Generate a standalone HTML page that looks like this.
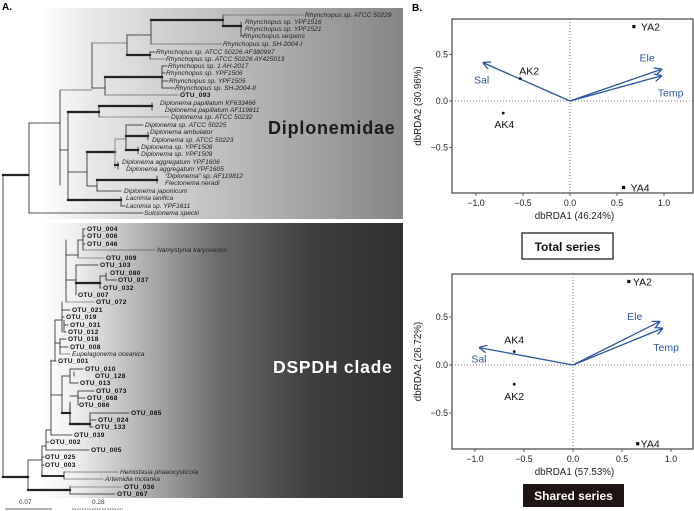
<!DOCTYPE html>
<html><head><meta charset="utf-8">
<style>
html,body{margin:0;padding:0;background:#fff;}
svg{display:block;font-family:"Liberation Sans",Arial,sans-serif;}
.lf{font-size:6.6px;font-style:italic;fill:#222;}
.ob{font-size:6.6px;font-weight:bold;fill:#111;letter-spacing:0.3px;}
.tk{font-size:8.8px;fill:#222;}
.at{font-size:9.8px;fill:#222;}
.pl{font-size:10.5px;fill:#111;}
.vl{font-size:10.5px;fill:#2b55a0;}
</style></head>
<body>
<svg id="fig" width="694" height="511" viewBox="0 0 694 511">
<defs>
<linearGradient id="g1" x1="0" x2="1" y1="0" y2="0">
<stop offset="0" stop-color="#ffffff"/><stop offset="0.15" stop-color="#e8e8e8"/><stop offset="1" stop-color="#858585"/>
</linearGradient>
<linearGradient id="g2" x1="0" x2="1" y1="0" y2="0">
<stop offset="0" stop-color="#ffffff"/><stop offset="0.1" stop-color="#f0f0f0"/><stop offset="0.5" stop-color="#6a6a6a"/><stop offset="0.75" stop-color="#3e3e3e"/><stop offset="1" stop-color="#303030"/>
</linearGradient>
<marker id="ah" markerWidth="8" markerHeight="8" refX="7" refY="4" orient="auto" markerUnits="userSpaceOnUse">
<path d="M0,0 L8,4 L0,8" fill="none" stroke="#2b55a0" stroke-width="1.3"/>
</marker>
</defs>

<!-- Panel A -->
<text x="2" y="10" font-size="10" font-weight="bold">A.</text>
<rect x="38" y="8" width="365" height="211" fill="url(#g1)"/>
<rect x="38" y="223" width="365" height="275" fill="url(#g2)"/>
<text x="268" y="134" font-size="18" font-weight="bold" fill="#1a1a1a" letter-spacing="0.8">Diplonemidae</text>
<text x="273" y="373" font-size="17.5" font-weight="bold" fill="#ffffff" letter-spacing="0.8">DSPDH clade</text>

<g id="tree" stroke-linecap="square"></g>
<g id="leaves"></g>

<g>
<text x="19" y="504" font-size="6.5" fill="#333">0.07</text>
<line x1="5" y1="509" x2="52" y2="509" stroke="#333" stroke-width="0.8"/>
<text x="92" y="504" font-size="6.5" fill="#333">0.28</text>
<line x1="72" y1="509" x2="123" y2="509" stroke="#333" stroke-width="0.8" stroke-dasharray="1.5,1"/>
</g>

<!-- Panel B -->
<text x="412" y="11" font-size="10" font-weight="bold">B.</text>
<g id="p1"></g>
<g id="p2"></g>
<g>
<rect x="522" y="233" width="91" height="26" fill="#fff" stroke="#111" stroke-width="1.2"/>
<text x="567.5" y="251" text-anchor="middle" font-size="12" font-weight="bold" fill="#111">Total series</text>
</g>
<g>
<rect x="523" y="484" width="101" height="23" fill="#1e1412"/>
<text x="573.5" y="500" text-anchor="middle" font-size="12" font-weight="bold" fill="#fff">Shared series</text>
</g>
</svg>

<script>
// ---- RDA data: Total series ----
const sites1 = ["YA2", "AK2", "AK4", "YA4"];
const site1X = [0.68, -0.53, -0.71, 0.57];
const site1Y = [0.80, 0.24, -0.13, -0.93];
const vars1 = ["Sal", "Ele", "Temp"];
const vec1X = [-0.92, 0.97, 0.97];
const vec1Y = [0.41, 0.34, 0.27];
const vecLab1X = [-0.94, 0.82, 1.07];
const vecLab1Y = [0.23, 0.47, 0.09];
// ---- RDA data: Shared series ----
const sites2 = ["YA2", "AK4", "AK2", "YA4"];
const site2X = [0.57, -0.60, -0.60, 0.66];
const site2Y = [0.87, 0.14, -0.20, -0.82];
const vars2 = ["Sal", "Ele", "Temp"];
const vec2X = [-0.95, 0.88, 0.91];
const vec2Y = [0.18, 0.45, 0.38];
const vecLab2X = [-0.96, 0.63, 0.95];
const vecLab2Y = [0.07, 0.51, 0.19];
const xTicks = [-1.0, -0.5, 0.0, 0.5, 1.0];
const xTickLabels = ["\u22121.0", "\u22120.5", "0.0", "0.5", "1.0"];
const yTicks = [-0.5, 0.0, 0.5];
const yTickLabels = ["\u22120.5", "0.0", "0.5"];
const xTitle1 = "dbRDA1 (46.24%)", yTitle1 = "dbRDA2 (30.96%)";
const xTitle2 = "dbRDA1 (57.53%)", yTitle2 = "dbRDA2 (26.72%)";
// label placement style (pixel offsets: dx, dy, anchor)
const lab1Style = [[7,4,"start"],[9,-4,"middle"],[1,15,"middle"],[7,4,"start"]];
const lab2Style = [[4,4,"start"],[0,-8,"middle"],[0,16,"middle"],[3,4,"start"]];

const NS = "http://www.w3.org/2000/svg";
function mk(parent, tag, attrs, text) {
  const e = document.createElementNS(NS, tag);
  for (const k in attrs) e.setAttribute(k, attrs[k]);
  if (text !== undefined) e.textContent = text;
  parent.appendChild(e);
  return e;
}

function drawRDA(g, box, x0, xs, y0, ys, sites, sx, sy, labStyle, vars, vx, vy, lx, ly, xTitle, yTitle) {
  const X = v => x0 + xs * v, Y = v => y0 - ys * v;
  const fr = mk(g, "rect", {x: box[0], y: box[1], width: box[2] - box[0], height: box[3] - box[1], fill: "none", stroke: "#333", "stroke-width": 1.1});
  
  
  const zx = mk(g, "line", {x1: X(0), x2: X(0), y1: box[1], y2: box[3], stroke: "#555", "stroke-width": 0.8, "stroke-dasharray": "1,2"});
  
  
  const zy = mk(g, "line", {x1: box[0], x2: box[2], y1: Y(0), y2: Y(0), stroke: "#555", "stroke-width": 0.8, "stroke-dasharray": "1,2"});
  
  
  xTicks.forEach((t, i) => {
    const tl = mk(g, "line", {x1: X(t), x2: X(t), y1: box[3], y2: box[3] + 3, stroke: "#444", "stroke-width": 0.8});
    
    
    const tt = mk(g, "text", {x: X(t), y: box[3] + 13, "text-anchor": "middle", class: "tk"}, xTickLabels[i]);
    
    
  });
  yTicks.forEach((t, i) => {
    const tl = mk(g, "line", {x1: box[0] - 3, x2: box[0], y1: Y(t), y2: Y(t), stroke: "#444", "stroke-width": 0.8});
    
    
    const tt = mk(g, "text", {x: box[0] - 4, y: Y(t) + 3, "text-anchor": "end", class: "tk"}, yTickLabels[i]);
    
    
  });
  const xt = mk(g, "text", {x: (box[0] + box[2]) / 2 + 2, y: box[3] + 26, "text-anchor": "middle", class: "at"}, xTitle);
  
  
  const cy = (box[1] + box[3]) / 2;
  const yt = mk(g, "text", {x: 0, y: 0, "text-anchor": "middle", class: "at", transform: "translate(421," + cy + ") rotate(-90)"}, yTitle);
  
  
  vars.forEach((v, i) => {
    const a = mk(g, "line", {x1: X(0), y1: Y(0), x2: X(vx[i]), y2: Y(vy[i]), stroke: "#2b55a0", "stroke-width": 1.3, "marker-end": "url(#ah)"});
    
    
    const t = mk(g, "text", {x: X(lx[i]), y: Y(ly[i]) + 4, "text-anchor": "middle", class: "vl"}, v);
    
    
  });
  sites.forEach((s, i) => {
    const isYA = s.startsWith("YA");
    const p = isYA
      ? mk(g, "rect", {x: X(sx[i]) - 1.6, y: Y(sy[i]) - 1.6, width: 3.2, height: 3.2, fill: "#111"})
      : mk(g, "circle", {cx: X(sx[i]), cy: Y(sy[i]), r: 1.4, fill: "#111"});
    
    
    const st = labStyle[i];
    const t = mk(g, "text", {x: X(sx[i]) + st[0], y: Y(sy[i]) + st[1], "text-anchor": st[2], class: "pl"}, s);
    
    
  });
}

drawRDA(document.getElementById("p1"), [452, 19, 693, 193], 570, 94, 101, 93,
  sites1, site1X, site1Y, lab1Style, vars1, vec1X, vec1Y, vecLab1X, vecLab1Y, xTitle1, yTitle1);
drawRDA(document.getElementById("p2"), [452, 274, 693, 449], 573, 98, 365, 96,
  sites2, site2X, site2Y, lab2Style, vars2, vec2X, vec2Y, vecLab2X, vecLab2Y, xTitle2, yTitle2);

// ---- Tree ----
const tree = document.getElementById("tree");
const segs = [
 [3,175,3,477,0.8],[3,175,28,175,2.2],[29,123,29,213,0.8],[29,123,60,123,0.8],[29,213,143,213,0.8],
 [60,90,60,185,0.8],[60,90,92,90,0.8,"#666"],[92,43,92,88,0.8],[92,88,105,88,0.8],[105,77,105,95,0.8],
 [105,77,162,77,2.2],[105,95,178,95,0.8,"#666"],[162,66,162,88,0.8],[162,66,167,66,0.8],[162,73,165,73,0.8],[162,81,168,81,0.8],[162,88,174,88,0.8],
 [92,43,127,43,0.8,"#666"],[127,35,127,55,0.8],[127,35,151,35,0.8],[127,55,150,55,2.2],[150,52,150,59,0.8],[150,52,155,52,0.8],[150,59,165,59,0.8,"#666"],
 [151,20,151,44,0.8],[151,20,223,20,2.2],[151,44,222,44,0.8,"#666"],[223,15,223,26,0.8],[223,15,303,15,0.8,"#666"],[223,26,241,26,2.2],[241,22,241,36,0.8],[241,36,243,36,0.8],
 [68,112,68,200,0.8],[60,150,68,150,0.8],[68,112,99,112,2.2],[99,106,99,117,0.8],[99,106,152,106,2.2],[99,117,169,117,0.8,"#777"],[152,103,152,110,0.8],
 [68,200,121,200,2.2],[121,197,121,206,0.8],[121,206,125,206,0.8],
 [68,172,87,172,0.8],[87,152,87,186,0.8],[87,152,115,152,2.2],[87,186,97,186,0.8],[97,180,97,191,0.8],[97,180,157,180,2.2],[157,176,157,183,0.8],[97,191,121,191,0.8],
 [115,139,115,168,0.8,"#777"],[115,139,126,139,0.8,"#777"],[126,125,126,150,0.8],[126,125,143,125,0.8],[126,136,148,136,2.2],[148,132,148,140,0.8],[126,150,138,150,2.2],[138,147,138,154,0.8],[115,165,118,165,2],[118,162,118,169,0.8],
 [3,477,28,477,2.2],[28,460,28,490,0.8],[28,490,70,490,2.2],[70,486,70,494,0.8],[70,487,122,487,0.8,"#777"],[70,494,115,494,0.8],
 [28,460,42,460,0.8],[42,446,42,476,0.8],[42,476,64,476,1.8,"#111","1.5,1"],[64,472,64,479,0.8,"#111","1.5,1"],[64,472,118,472,0.6,"#111","1.5,1"],[64,479,103,479,0.6,"#111","1.5,1"],
 [42,457,44,457,0.8],[42,465,44,465,0.8],[42,446,46,446,0.8],[46,430,46,450,0.8],[46,450,89,450,0.8],[46,442,49,442,0.8],
 [46,430,51,430,0.8],[51,360,51,435,0.8],[51,435,72,435,0.8],[51,361,56,361,0.8],
 [51,395,62,395,0.8],[62,376,62,413,0.8],[62,376,70,376,0.8],[70,369,70,383,0.8],[70,369,83,369,0.8],[70,383,78,383,0.8],[74,372,74,376],
 [62,413,70,413,2.2],[70,405,70,424,0.8],[70,402,70,424,0.8],[70,396,78,396,0.8],[78,391,78,405,0.8],[78,391,94,391,0.8],[78,398,85,398,0.8],
 [70,424,90,424,2.2],[90,413,90,427,0.8],[90,413,129,413,0.8],[90,420,96,420,0.8],[90,427,93,427,0.8],
 [55,320,55,361,0.8],[55,343,60,343,0.8],[60,339,60,354,0.8],[60,339,66,339,0.8],[60,347,68,347,0.8],[60,354,70,354,0.8,"#777"],
 [55,320,62,320,0.8],[62,310,62,332,0.8],[62,310,70,310,0.8],[62,317,64,317,0.8],[64,325,68,325,0.8],[64,320,64,332,0.8],[64,332,66,332,0.8],
 [62,302,62,310,0.8],[66,240,66,302,0.8],[66,302,94,302,0.8,"#777"],[66,280,76,280,0.8],[76,265,76,295,0.8],[76,265,98,265,0.8],
 [76,283,100,283,2.2],[100,276,100,288,0.8],[100,276,106,276,0.8],[106,273,106,280,0.8],[106,280,116,280,0.8],[100,288,101,288,0.8],
 [66,255,78,255,0.8],[78,240,78,258,0.8],[78,258,104,258,0.8,"#777"],[78,240,83,240,0.8],[83,229,83,250,0.8],[83,229,85,229,0.8],[83,236,85,236,0.8],[83,244,85,244,0.8],[83,250,155,250,0.6,"#111","1.5,1"]
];
segs.forEach(s => {
  const a = {x1: s[0], y1: s[1], x2: s[2], y2: s[3], stroke: s[5] || "#222", "stroke-width": s[4] || 0.8};
  if (s[6]) a["stroke-dasharray"] = s[6];
  const l = mk(tree, "line", a);
  
  
});

const leafG = document.getElementById("leaves");
const leaves = [
 ["Rhynchopus sp. ATCC 50229",305,17,0],["Rhynchopus sp. YPF1516",245,24,0],["Rhynchopus sp. YPF1521",245,31,0],["Rhynchopus serpens",243,38,0],
 ["Rhynchopus sp. SH-2004-I",223,46,0],["Rhynchopus sp. ATCC 50226 AF380997",156,54,0],["Rhynchopus sp. ATCC 50226 AY425013",166,61,0],
 ["Rhynchopus sp. 1 AH-2017",168,68,0],["Rhynchopus sp. YPF1506",166,75,0],["Rhynchopus sp. YPF1505",169,83,0],["Rhynchopus sp. SH-2004-II",175,90,0],
 ["OTU_093",180,97,1],["Diplonema papillatum KF633466",160,105,0],["Diplonema papillatum AF119811",165,112,0],["Diplonema sp. ATCC 50232",171,119,0],
 ["Diplonema sp. ATCC 50225",145,127,0],["Diplonema ambulator",150,134,0],["Diplonema sp. ATCC 50223",152,142,0],["Diplonema sp. YPF1508",141,149,0],
 ["Diplonema sp. YPF1509",141,156,0],["Diplonema aggregatum YPF1606",122,164,0],["Diplonema aggregatum YPF1605",126,171,0],["\u201cDiplonema\u201d sp. AF119812",165,178,0],
 ["Flectonema neradi",165,185,0],["Diplonema japonicum",124,193,0],["Lacrimia lanifica",126,200,0],["Lacrimia sp. YPF1611",126,208,0],["Sulcionema specki",144,215,0],
 ["OTU_004",87,231,1],["OTU_006",87,238,1],["OTU_046",87,246,1],["Namystynia karyoxenos",157,252,0],["OTU_009",106,260,1],["OTU_103",100,267,1],
 ["OTU_080",110,275,1],["OTU_037",118,282,1],["OTU_032",103,290,1],["OTU_007",78,297,1],["OTU_072",96,304,1],["OTU_021",72,312,1],["OTU_019",66,319,1],
 ["OTU_031",70,327,1],["OTU_012",68,334,1],["OTU_018",68,341,1],["OTU_008",70,349,1],["Eupelagonema oceanica",72,356,0],["OTU_001",58,363,1],
 ["OTU_010",85,371,1],["OTU_128",95,378,1],["OTU_013",80,385,1],["OTU_073",96,393,1],["OTU_068",87,400,1],["OTU_086",79,407,1],["OTU_085",131,415,1],
 ["OTU_024",98,422,1],["OTU_133",95,429,1],["OTU_039",74,437,1],["OTU_002",50,444,1],["OTU_005",91,452,1],["OTU_025",45,459,1],["OTU_003",45,467,1],
 ["Hemistasia phaeocysticola",120,474,0],["Artemidia motanka",105,481,0],["OTU_036",124,489,1],["OTU_067",117,496,1]
];
leaves.forEach(l => {
  const t = mk(leafG, "text", {x: l[1], y: l[2], class: l[3] ? "ob" : "lf"}, l[0]);
  
  
});
</script>
</body></html>
